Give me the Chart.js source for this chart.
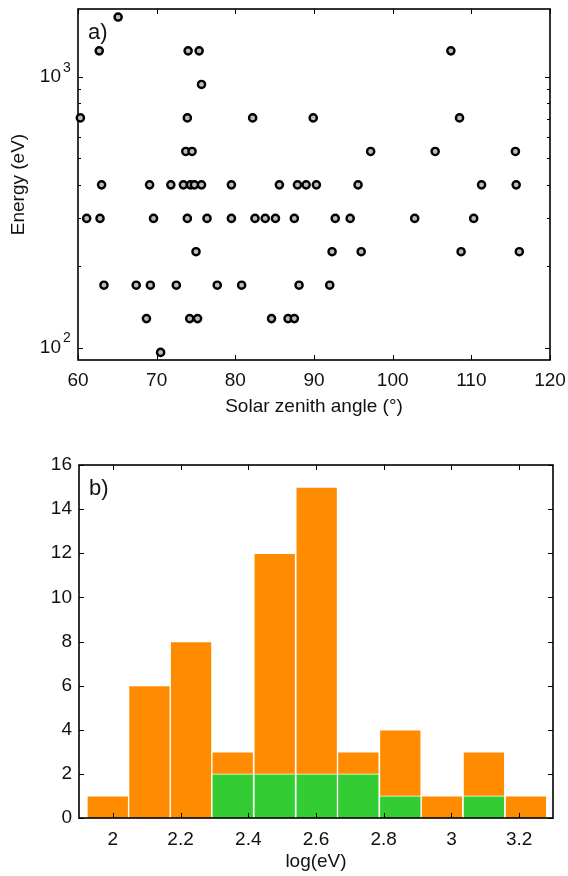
<!DOCTYPE html>
<html>
<head>
<meta charset="utf-8">
<script src="https://cdn.jsdelivr.net/npm/chart.js@4"></script>
<style>
  body { margin: 0; background: #fff; }
  canvas { position: absolute; left: 0; }
  #scatter { top: 0; }
  #hist { top: 440px; }
</style>
</head>
<body>
<canvas id="scatter" width="568" height="420"></canvas>
<canvas id="hist" width="568" height="436"></canvas>
<script>
// panel a: energy levels (eV) and the zenith angles seen at each level
const energyLevels = [96, 128, 170, 226, 300, 399, 530, 705, 937, 1247, 1662];
const anglesByLevel = [
  [70.5],
  [68.7, 74.2, 75.2, 84.6, 86.7, 87.5],
  [63.3, 67.4, 69.2, 72.5, 77.7, 80.8, 88.1, 92.0],
  [75.0, 92.3, 96.0, 108.7, 116.1],
  [61.1, 62.8, 69.6, 73.9, 76.4, 79.5, 82.5, 83.8, 85.1, 87.5, 92.7, 94.6, 102.8, 110.3],
  [63.0, 69.1, 71.8, 73.4, 74.3, 74.8, 75.7, 79.5, 85.6, 87.9, 89.0, 90.3, 95.6, 111.3, 115.7],
  [73.7, 74.5, 97.2, 105.4, 115.6],
  [60.3, 73.9, 82.2, 89.9, 108.5],
  [75.7],
  [62.7, 74.0, 75.4, 107.4],
  [65.1]
];
const angleTicks = [60, 70, 80, 90, 100, 110, 120];
const energyTicks = [100, 200, 300, 400, 500, 600, 700, 800, 900, 1000];

// panel b: histogram of log(eV)
const binCentres = [1.985, 2.108, 2.231, 2.354, 2.478, 2.602, 2.725, 2.849, 2.972, 3.096, 3.22];
const totalCounts = [1, 6, 8, 3, 12, 15, 3, 4, 1, 3, 1];
const greenCounts = [0, 0, 0, 2, 2, 2, 2, 1, 0, 1, 0];
const logTicks = [2, 2.2, 2.4, 2.6, 2.8, 3, 3.2];
const countTicks = [0, 2, 4, 6, 8, 10, 12, 14, 16];

const FONT = '"Liberation Sans", Arial, sans-serif';
Chart.defaults.font.family = FONT;
Chart.defaults.font.size = 19;
Chart.defaults.color = '#111';

// box round the plot with ticks pointing inwards, plus the panel letter
const frameTicks = {
  id: 'frameTicks',
  draw(chart, opts) {
    const {ctx, chartArea: a, scales} = chart;
    ctx.save();
    ctx.strokeStyle = '#000';
    ctx.lineWidth = 1;
    ctx.beginPath();
    scales.x.ticks.forEach(t => {
      const px = Math.round(scales.x.getPixelForValue(t.value)) + 0.5;
      ctx.moveTo(px, a.bottom); ctx.lineTo(px, a.bottom - 5);
      ctx.moveTo(px, a.top); ctx.lineTo(px, a.top + 5);
    });
    scales.y.ticks.forEach(t => {
      const len = t.label ? 5 : 3;
      const py = Math.round(scales.y.getPixelForValue(t.value)) + 0.5;
      ctx.moveTo(a.left, py); ctx.lineTo(a.left + len, py);
      ctx.moveTo(a.right, py); ctx.lineTo(a.right - len, py);
    });
    ctx.stroke();
    ctx.lineWidth = 1.6;
    ctx.strokeRect(a.left, a.top, a.right - a.left, a.bottom - a.top);
    ctx.fillStyle = '#111';
    ctx.font = '22px ' + FONT;
    ctx.textBaseline = 'middle';
    ctx.fillText(opts.panel, a.left + 10, a.top + 24);
    // exponents for the "10" labels of a log axis
    if (opts.exponents) {
      ctx.font = '14px ' + FONT;
      ctx.textAlign = 'left';
      scales.y.ticks.forEach(t => {
        if (!t.label) return;
        const py = scales.y.getPixelForValue(t.value);
        ctx.fillText(String(Math.round(Math.log10(t.value))), a.left - 15, py - 9);
      });
    }
    ctx.restore();
  },
  beforeDatasetsDraw(chart, args, opts) { if (!opts.onTop) this.draw(chart, opts); },
  afterDatasetsDraw(chart, args, opts) { if (opts.onTop) this.draw(chart, opts); }
};

// fixed axis sizes, and no extra room for overhanging labels
function fixSize(w, h) {
  return s => {
    if (w) s.width = w;
    if (h) s.height = h;
    s.paddingTop = s.paddingBottom = s.paddingLeft = s.paddingRight = 0;
  };
}

const points = [];
energyLevels.forEach((e, i) => anglesByLevel[i].forEach(ang => points.push({x: ang, y: e})));

new Chart(document.getElementById('scatter'), {
  type: 'scatter',
  data: {
    datasets: [{
      data: points,
      pointRadius: 3.6,
      pointHoverRadius: 3.6,
      borderWidth: 2.4,
      borderColor: '#000',
      backgroundColor: '#bdbdbd',
      clip: false
    }]
  },
  options: {
    responsive: false,
    animation: false,
    devicePixelRatio: 1,
    layout: { padding: { top: 9, right: 18, left: 0, bottom: 0 } },
    plugins: {
      legend: { display: false }, tooltip: { enabled: false },
      frameTicks: { panel: 'a)', onTop: false, exponents: true }
    },
    scales: {
      x: {
        type: 'linear', min: 60, max: 120,
        grid: { display: false, drawTicks: false },
        border: { display: false },
        afterBuildTicks: s => { s.ticks = angleTicks.map(v => ({value: v})); },
        afterFit: fixSize(0, 60),
        ticks: { padding: 9, maxRotation: 0 },
        title: { display: true, text: 'Solar zenith angle (°)', padding: { top: 0, bottom: 2 } }
      },
      y: {
        type: 'logarithmic', min: 90, max: 1780,
        grid: { display: false, drawTicks: false },
        border: { display: false },
        afterBuildTicks: s => { s.ticks = energyTicks.map(v => ({value: v})); },
        afterFit: fixSize(78, 0),
        ticks: {
          autoSkip: false, padding: 17,
          callback: v => (v === 100 || v === 1000) ? '10' : ''
        },
        title: { display: true, text: 'Energy (eV)', padding: { top: 7, bottom: 0 } }
      }
    }
  },
  plugins: [frameTicks]
});

new Chart(document.getElementById('hist'), {
  type: 'bar',
  data: {
    datasets: [
      {
        data: binCentres.map((x, i) => ({x: x, y: greenCounts[i]})),
        backgroundColor: '#33cc33', borderColor: '#ffffff', borderWidth: 1
      },
      {
        data: binCentres.map((x, i) => ({x: x, y: totalCounts[i]})),
        backgroundColor: '#ff8c00', borderColor: '#ffffff', borderWidth: 1
      }
    ]
  },
  options: {
    responsive: false,
    animation: false,
    devicePixelRatio: 1,
    grouped: false,
    barPercentage: 1,
    categoryPercentage: 1,
    layout: { padding: { top: 25, right: 15, left: 0, bottom: 0 } },
    plugins: { legend: { display: false }, tooltip: { enabled: false }, frameTicks: { panel: 'b)', onTop: true } },
    scales: {
      x: {
        type: 'linear', min: 1.9, max: 3.3, offset: false,
        grid: { display: false, drawTicks: false },
        border: { display: false },
        afterBuildTicks: s => { s.ticks = logTicks.map(v => ({value: v})); },
        afterFit: fixSize(0, 58),
        ticks: { padding: 10, maxRotation: 0, callback: v => String(+v.toFixed(1)) },
        title: { display: true, text: 'log(eV)', padding: { top: 0, bottom: 3 } }
      },
      y: {
        min: 0, max: 16,
        grid: { display: false, drawTicks: false },
        border: { display: false },
        afterBuildTicks: s => { s.ticks = countTicks.map(v => ({value: v})); },
        afterFit: fixSize(79, 0),
        ticks: { autoSkip: false, padding: 7 }
      }
    }
  },
  plugins: [frameTicks]
});
</script>
</body>
</html>
